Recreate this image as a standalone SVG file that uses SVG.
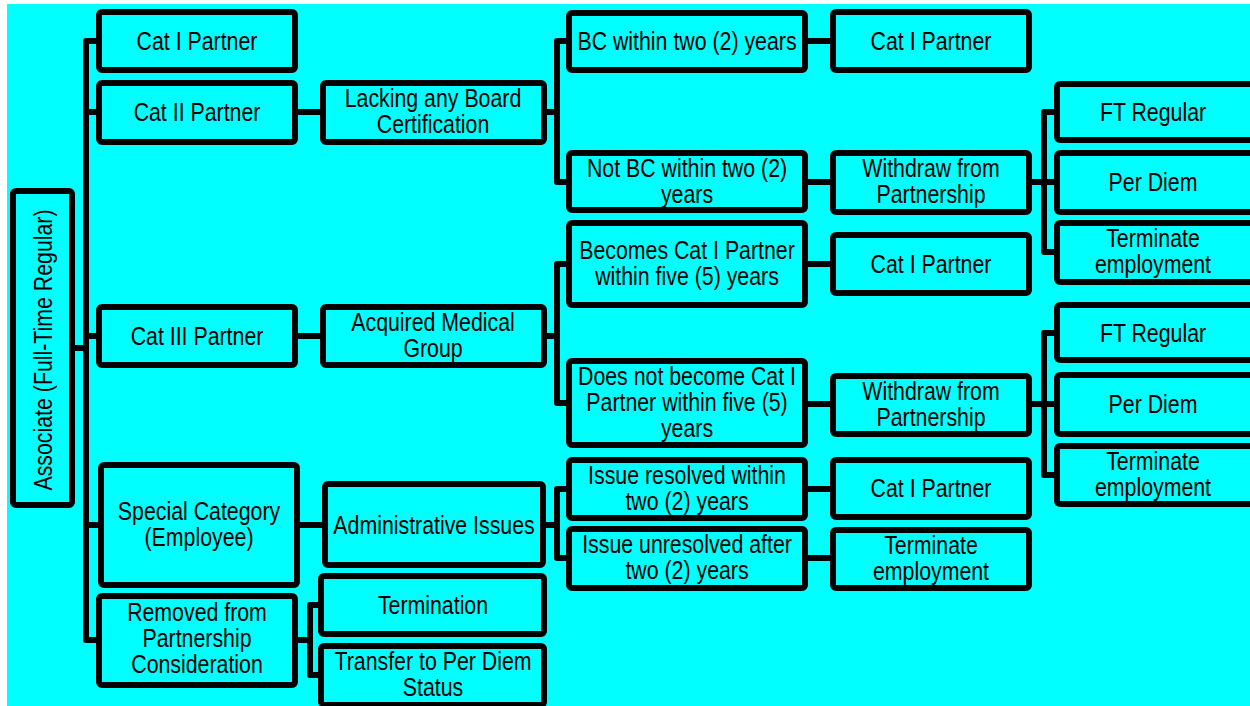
<svg xmlns="http://www.w3.org/2000/svg" width="1250" height="706" viewBox="0 0 1250 706">
<style>
.b{fill:#00ffff;stroke:#000;stroke-width:6}
.t{font-family:"Liberation Sans",Arial,sans-serif;font-size:26px;fill:#000;text-anchor:middle}
.c{fill:none;stroke:#000;stroke-width:6;stroke-linejoin:round}
</style>
<rect x="0" y="0" width="1250" height="706" fill="#fff"/>
<rect x="7" y="4" width="1243" height="702" fill="#00ffff"/>
<g id="connectors" class="c">
<path d="M75 348H86"/>
<path d="M99 41H86V640H99M86 112H99M86 336H99M86 525H101"/>
<path d="M295 112H323M295 336H323M298 525H325"/>
<path d="M295 640H310M321 605H310V675H321"/>
<path d="M544 112H557M569 41H557V182H569"/>
<path d="M544 336H557M569 264H557V403H569"/>
<path d="M543 525H557M569 489H557V558H569"/>
<path d="M805 41H833M805 182H833M805 264H833M805 404H833M805 489H833M805 558H833"/>
<path d="M1029 182H1057M1057 112H1044V252H1057"/>
<path d="M1029 404H1057M1057 333H1044V475H1057"/>
</g>
<g id="associate"><rect class="b" x="13" y="191" width="59" height="314" rx="3"/><text class="t" transform="translate(52 350) rotate(-90) scale(0.82 1)">Associate (Full-Time Regular)</text></g>
<g id="cat1"><rect class="b" x="99" y="12" width="196" height="58" rx="3"/><text class="t" transform="translate(197 50) scale(0.82 1)">Cat I Partner</text></g>
<g id="cat2"><rect class="b" x="99" y="83" width="196" height="59" rx="3"/><text class="t" transform="translate(197 121) scale(0.82 1)">Cat II Partner</text></g>
<g id="cat3"><rect class="b" x="99" y="307" width="196" height="58" rx="3"/><text class="t" transform="translate(197 345) scale(0.82 1)">Cat III Partner</text></g>
<g id="special"><rect class="b" x="101" y="465" width="196" height="120" rx="3"/><text class="t" transform="translate(199 525) scale(0.82 1)"><tspan x="0" y="-5">Special Category</tspan><tspan x="0" y="21">(Employee)</tspan></text></g>
<g id="removed"><rect class="b" x="99" y="596" width="196" height="89" rx="3"/><text class="t" transform="translate(197 640) scale(0.82 1)"><tspan x="0" y="-19">Removed from</tspan><tspan x="0" y="7">Partnership</tspan><tspan x="0" y="33">Consideration</tspan></text></g>
<g id="lacking"><rect class="b" x="323" y="83" width="221" height="59" rx="3"/><text class="t" transform="translate(433 112) scale(0.82 1)"><tspan x="0" y="-5">Lacking any Board</tspan><tspan x="0" y="21">Certification</tspan></text></g>
<g id="acquired"><rect class="b" x="323" y="307" width="221" height="58" rx="3"/><text class="t" transform="translate(433 336) scale(0.82 1)"><tspan x="0" y="-5">Acquired Medical</tspan><tspan x="0" y="21">Group</tspan></text></g>
<g id="admin"><rect class="b" x="325" y="484" width="218" height="81" rx="3"/><text class="t" transform="translate(434 534) scale(0.82 1)">Administrative Issues</text></g>
<g id="termination"><rect class="b" x="321" y="576" width="223" height="58" rx="3"/><text class="t" transform="translate(433 614) scale(0.82 1)">Termination</text></g>
<g id="transfer"><rect class="b" x="321" y="646" width="223" height="59" rx="3"/><text class="t" transform="translate(433 675) scale(0.82 1)"><tspan x="0" y="-5">Transfer to Per Diem</tspan><tspan x="0" y="21">Status</tspan></text></g>
<g id="bc"><rect class="b" x="569" y="13" width="236" height="57" rx="3"/><text class="t" transform="translate(687 50) scale(0.82 1)">BC within two (2) years</text></g>
<g id="notbc"><rect class="b" x="569" y="153" width="236" height="57" rx="3"/><text class="t" transform="translate(687 182) scale(0.82 1)"><tspan x="0" y="-5">Not BC within two (2)</tspan><tspan x="0" y="21">years</tspan></text></g>
<g id="becomes"><rect class="b" x="569" y="223" width="236" height="82" rx="3"/><text class="t" transform="translate(687 264) scale(0.82 1)"><tspan x="0" y="-5">Becomes Cat I Partner</tspan><tspan x="0" y="21">within five (5) years</tspan></text></g>
<g id="doesnot"><rect class="b" x="569" y="361" width="236" height="84" rx="3"/><text class="t" transform="translate(687 403) scale(0.82 1)"><tspan x="0" y="-18">Does not become Cat I</tspan><tspan x="0" y="8">Partner within five (5)</tspan><tspan x="0" y="34">years</tspan></text></g>
<g id="resolved"><rect class="b" x="569" y="460" width="236" height="58" rx="3"/><text class="t" transform="translate(687 489) scale(0.82 1)"><tspan x="0" y="-5">Issue resolved within</tspan><tspan x="0" y="21">two (2) years</tspan></text></g>
<g id="unresolved"><rect class="b" x="569" y="529" width="236" height="59" rx="3"/><text class="t" transform="translate(687 558) scale(0.82 1)"><tspan x="0" y="-5">Issue unresolved after</tspan><tspan x="0" y="21">two (2) years</tspan></text></g>
<g id="c5cat1a"><rect class="b" x="833" y="12" width="196" height="58" rx="3"/><text class="t" transform="translate(931 50) scale(0.82 1)">Cat I Partner</text></g>
<g id="withdraw1"><rect class="b" x="833" y="153" width="196" height="59" rx="3"/><text class="t" transform="translate(931 182) scale(0.82 1)"><tspan x="0" y="-5">Withdraw from</tspan><tspan x="0" y="21">Partnership</tspan></text></g>
<g id="c5cat1b"><rect class="b" x="833" y="235" width="196" height="58" rx="3"/><text class="t" transform="translate(931 273) scale(0.82 1)">Cat I Partner</text></g>
<g id="withdraw2"><rect class="b" x="833" y="376" width="196" height="58" rx="3"/><text class="t" transform="translate(931 405) scale(0.82 1)"><tspan x="0" y="-5">Withdraw from</tspan><tspan x="0" y="21">Partnership</tspan></text></g>
<g id="c5cat1c"><rect class="b" x="833" y="460" width="196" height="57" rx="3"/><text class="t" transform="translate(931 497) scale(0.82 1)">Cat I Partner</text></g>
<g id="c5term"><rect class="b" x="833" y="530" width="196" height="58" rx="3"/><text class="t" transform="translate(931 559) scale(0.82 1)"><tspan x="0" y="-5">Terminate</tspan><tspan x="0" y="21">employment</tspan></text></g>
<g id="ft1"><rect class="b" x="1057" y="84" width="200" height="56" rx="3"/><text class="t" transform="translate(1153 121) scale(0.82 1)">FT Regular</text></g>
<g id="pd1"><rect class="b" x="1057" y="153" width="200" height="59" rx="3"/><text class="t" transform="translate(1153 191) scale(0.82 1)">Per Diem</text></g>
<g id="te1"><rect class="b" x="1057" y="223" width="200" height="59" rx="3"/><text class="t" transform="translate(1153 252) scale(0.82 1)"><tspan x="0" y="-5">Terminate</tspan><tspan x="0" y="21">employment</tspan></text></g>
<g id="ft2"><rect class="b" x="1057" y="305" width="200" height="55" rx="3"/><text class="t" transform="translate(1153 342) scale(0.82 1)">FT Regular</text></g>
<g id="pd2"><rect class="b" x="1057" y="375" width="200" height="59" rx="3"/><text class="t" transform="translate(1153 413) scale(0.82 1)">Per Diem</text></g>
<g id="te2"><rect class="b" x="1057" y="446" width="200" height="58" rx="3"/><text class="t" transform="translate(1153 475) scale(0.82 1)"><tspan x="0" y="-5">Terminate</tspan><tspan x="0" y="21">employment</tspan></text></g>
</svg>
